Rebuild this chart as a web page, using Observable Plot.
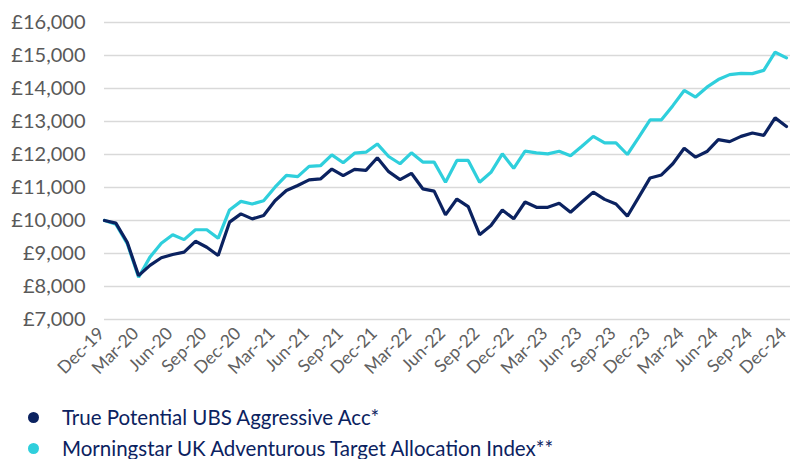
<!DOCTYPE html>
<html>
<head>
<meta charset="utf-8">
<script src="https://cdn.jsdelivr.net/npm/d3@7"></script>
<script src="https://cdn.jsdelivr.net/npm/@observablehq/plot@0.6"></script>
<style>
  html, body { margin: 0; padding: 0; background: #fff; }
  body { width: 791px; height: 459px; overflow: hidden; font-family: Lato, "Open Sans", sans-serif; }
  #legend { position: relative; height: 64px; }
  .item { position: absolute; left: 0; display: flex; align-items: center; font-size: 20.5px; line-height: 20px; height: 20px; color: #0b2260; white-space: nowrap; }
  .dot { display: inline-block; width: 11px; height: 11px; border-radius: 50%; margin-left: 28px; margin-right: 23px; }
</style>
</head>
<body>
<div id="chart"></div>
<div id="legend"></div>
<script>
// Monthly values, Dec-19 .. Dec-24 (61 months)
const fundName = "True Potential UBS Aggressive Acc*";
const indexName = "Morningstar UK Adventurous Target Allocation Index**";
const fundValues = [
  10000, 9920, 9340, 8330, 8640, 8870, 8970, 9040, 9370, 9190,
  8940, 9950, 10200, 10050, 10150, 10600, 10910, 11060, 11230, 11260,
  11560, 11360, 11550, 11520, 11900, 11480, 11240, 11430, 10960, 10890,
  10170, 10650, 10420, 9570, 9850, 10320, 10050, 10560, 10400, 10400,
  10520, 10250, 10560, 10860, 10640, 10500, 10130, 10710, 11290, 11380,
  11720, 12190, 11920, 12090, 12450, 12390, 12550, 12650, 12580, 13110,
  12850
];
const indexValues = [
  10000, 9890, 9300, 8280, 8890, 9310, 9570, 9420, 9720, 9720,
  9460, 10320, 10580, 10500, 10600, 11010, 11370, 11330, 11640, 11660,
  11990, 11750, 12040, 12070, 12320, 11940, 11720, 12050, 11770, 11770,
  11160, 11820, 11820, 11160, 11460, 12020, 11580, 12100, 12050, 12020,
  12100, 11960, 12250, 12550, 12350, 12350, 12000, 12520, 13050, 13050,
  13480, 13940, 13740, 14040, 14270, 14420, 14460, 14450, 14550, 15100,
  14930
];
const xTickLabels = ["Dec-19","Mar-20","Jun-20","Sep-20","Dec-20","Mar-21","Jun-21","Sep-21","Dec-21","Mar-22","Jun-22","Sep-22","Dec-22","Mar-23","Jun-23","Sep-23","Dec-23","Mar-24","Jun-24","Sep-24","Dec-24"];
const yTickValues = [7000, 8000, 9000, 10000, 11000, 12000, 13000, 14000, 15000, 16000];
const yTickLabels = ["£7,000","£8,000","£9,000","£10,000","£11,000","£12,000","£13,000","£14,000","£15,000","£16,000"];
const colors = {fund: "#0b2260", index: "#2fcfdc"};

const fundData = fundValues.map((v, i) => ({i, v}));
const indexData = indexValues.map((v, i) => ({i, v}));

const chart = Plot.plot({
  width: 791,
  height: 395,
  marginLeft: 104,
  marginRight: 1,
  marginTop: 22,
  marginBottom: 76,
  style: {fontFamily: "Lato, 'Open Sans', sans-serif", background: "#fff", overflow: "visible"},
  x: {domain: [0, 60], range: [104, 786]},
  y: {domain: [7000, 16000]},
  marks: [
    Plot.ruleY(yTickValues, {stroke: "#d9d9d9", strokeWidth: 1.5}),
    Plot.axisY({
      ticks: yTickValues,
      tickSize: 0,
      tickPadding: 19,
      tickFormat: d => yTickLabels[yTickValues.indexOf(d)],
      fontSize: 20,
      fill: "#595959",
      label: null
    }),
    Plot.axisX({
      ticks: xTickLabels.map((_, k) => k * 3),
      tickSize: 0,
      tickPadding: 11,
      tickRotate: -45,
      tickFormat: d => xTickLabels[d / 3],
      fontSize: 17.5,
      dx: -3,
      fill: "#606060",
      label: null
    }),
    Plot.line(indexData, {x: "i", y: "v", stroke: colors.index, strokeWidth: 3.2, strokeLinejoin: "miter"}),
    Plot.line(fundData, {x: "i", y: "v", stroke: colors.fund, strokeWidth: 3.2, strokeLinejoin: "miter"})
  ]
});
document.getElementById("chart").appendChild(chart);

const legend = document.getElementById("legend");
[[fundName, colors.fund, 12], [indexName, colors.index, 43]].forEach(([name, c, top]) => {
  const d = document.createElement("div");
  d.className = "item";
  d.style.top = top + "px";
  d.innerHTML = `<span class="dot" style="background:${c}"></span><span>${name}</span>`;
  legend.appendChild(d);
});
</script>
</body>
</html>
